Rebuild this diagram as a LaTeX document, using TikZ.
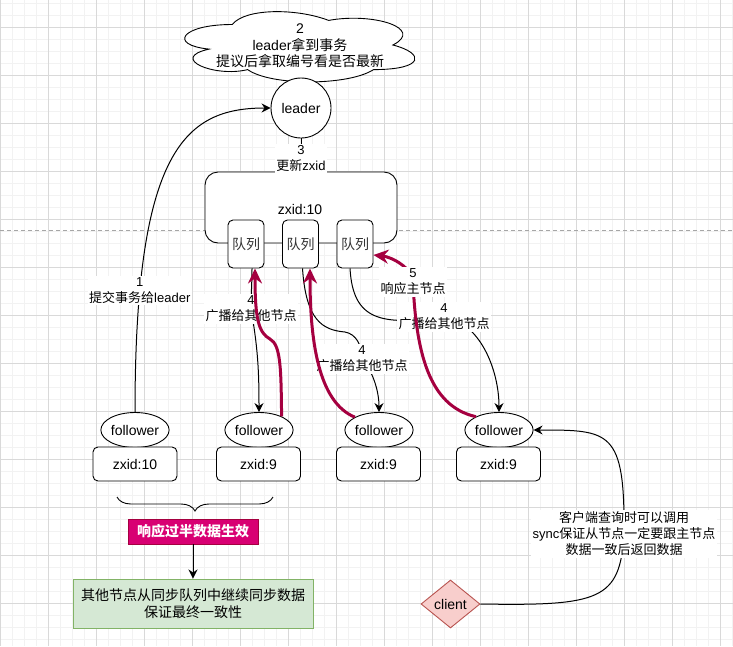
\documentclass[tikz,border=0pt]{standalone}
\usepackage{fontspec}
\setmainfont{Liberation Sans}
\newfontfamily\cjkfont{Noto Sans CJK SC}
\newcommand\zhtext[1]{{\cjkfont #1}}
\usetikzlibrary{shapes.geometric,decorations.pathreplacing,arrows.meta}

\definecolor{redline}{HTML}{A50040}
\definecolor{redfill}{HTML}{D80073}
\definecolor{greenfill}{HTML}{D5E8D4}
\definecolor{greenline}{HTML}{82B366}
\definecolor{pinkfill}{HTML}{F8CECC}
\definecolor{pinkline}{HTML}{B85450}

\tikzset{
  gridminor/.style={draw=black!5, line width=0.6pt},
  gridmajor/.style={draw=black!15, line width=0.8pt},
  nodetext/.style={font=\fontsize{14}{16.5}\selectfont},
  edgetext/.style={font=\fontsize{13}{16}\selectfont, fill=white, align=center, inner sep=1.5pt},
  rbox/.style={draw, fill=white, rounded corners=5pt, line width=0.9pt, nodetext, inner sep=0pt},
  queuebox/.style={rbox, minimum width=36pt, minimum height=48pt, text=black!80},
  zxidbox/.style={rbox, minimum width=84pt, minimum height=34pt},
  followernode/.style={draw, ellipse, fill=white, line width=0.9pt, minimum width=67pt, minimum height=35pt, inner sep=0pt, nodetext},
  blackarrow/.style={line width=1pt, -{Stealth[length=9pt,width=9pt,inset=3pt]}},
  redarrow/.style={line width=3pt, draw=redline, -{Stealth[length=15pt,width=14pt,inset=5pt]}}
}

\begin{document}
\begin{tikzpicture}[x=1pt,y=-1pt]
    \useasboundingbox (0,0) rectangle (733,646);
    \fill[white] (0,0) rectangle (733,646);

    % background grid
    \foreach \gx in {0,12,...,732} \draw[gridminor] (\gx,0) -- (\gx,646);
    \foreach \gy in {3,15,...,645} \draw[gridminor] (0,\gy) -- (733,\gy);
    \foreach \gx in {0,48,...,720} \draw[gridmajor] (\gx,0) -- (\gx,646);
    \foreach \gy in {27,75,...,627} \draw[gridmajor] (0,\gy) -- (733,\gy);
    \draw[black!35, dash pattern=on 4pt off 3pt] (0,230) -- (733,230);

    % leader side
    \draw[shift={(168,4)}, x=257pt, y=-82pt, fill=white, line width=0.9pt]
        (0.25,0.25) .. controls (0.05,0.25) and (0,0.5) .. (0.16,0.55)
        .. controls (0,0.66) and (0.18,0.9) .. (0.31,0.8)
        .. controls (0.4,1) and (0.7,1) .. (0.8,0.8)
        .. controls (1,0.8) and (1,0.6) .. (0.875,0.5)
        .. controls (1,0.3) and (0.8,0.1) .. (0.625,0.2)
        .. controls (0.5,0.05) and (0.3,0.05) .. (0.25,0.25) -- cycle;
    \node[align=center, nodetext] (idea) at (300,46) {2\\leader\zhtext{拿到事务}\\\zhtext{提议后拿取编号看是否最新}};
    \node[draw, circle, fill=white, line width=0.9pt, minimum size=60pt, inner sep=0pt, nodetext]
          (leader) at (301,108) {leader};
    \node[draw, fill=white, rounded corners=13pt, line width=0.9pt, minimum width=192pt, minimum height=71pt]
          (pool) at (301,207.5) {};
    \node[nodetext] (poolzxid) at (300,209) {zxid:10};
    \node[queuebox] (q1) at (246,244) {\zhtext{队列}};
    \node[queuebox] (q2) at (300.5,244) {\zhtext{队列}};
    \node[queuebox] (q3) at (355,244) {\zhtext{队列}};

    % followers
    \node[followernode] (f1) at (135,430) {follower};
    \node[zxidbox] (z1) at (135,464) {zxid:10};
    \node[followernode] (f2) at (259,430) {follower};
    \node[zxidbox] (z2) at (258.5,464) {zxid:9};
    \node[followernode] (f3) at (379,430) {follower};
    \node[zxidbox] (z3) at (378.5,464) {zxid:9};
    \node[followernode] (f4) at (499,430) {follower};
    \node[zxidbox] (z4) at (498.5,464) {zxid:9};

    % bottom part
    \draw[line width=0.9pt, decorate, decoration={brace, mirror, amplitude=14pt}] (117,497) -- (273,497);
    \node[draw=redline, fill=redfill, text=white, line width=0.9pt, minimum width=130pt, minimum height=25pt,
          inner sep=0pt, font=\fontsize{14}{16}\selectfont\bfseries] (half) at (193,531.5) {\zhtext{响应过半数据生效}};
    \node[draw=greenline, fill=greenfill, line width=1pt, minimum width=240pt, minimum height=49pt, align=center, nodetext]
          (final) at (193,603.5) {\zhtext{其他节点从同步队列中继续同步数据}\\\zhtext{保证最终一致性}};
    \node[diamond, draw=pinkline, fill=pinkfill, line width=0.9pt, aspect=1.23, minimum width=59pt, minimum height=48pt,
          inner sep=0pt, nodetext] (client) at (450.5,604) {client};
    \draw[blackarrow] (half) -- (final);

    % black edges
    \draw[blackarrow] (f1.north) .. controls (135,150) and (185,108) .. (leader.west)
        node[edgetext, pos=0.18] (l1) {1\\\zhtext{提交事务给}leader};
    \draw[line width=1pt] (leader.south) -- (pool.north) node[edgetext, pos=0.6] (l3) {3\\\zhtext{更新}zxid};
    \draw[blackarrow] ([xshift=6pt]q1.south) to[out=-90,in=90] (251,309)
        node[edgetext] (l4a) {4\\\zhtext{广播给其他节点}} to[out=-80,in=90] (f2.north);
    \draw[blackarrow] ([xshift=2pt]q2.south) .. controls (306,320) and (322,330) .. (345,332)
        .. controls (356,334) and (362,345) .. (362,359)
        node[edgetext] (l4b) {4\\\zhtext{广播给其他节点}} .. controls (372,370) and (379,390) .. (f3.north);
    \draw[blackarrow] ([xshift=-5pt]q3.south) .. controls (353,320) and (380,326) .. (444,317)
        node[edgetext] (l4c) {4\\\zhtext{广播给其他节点}} .. controls (480,322) and (499,370) .. (f4.north);
    \draw[blackarrow] (client.east) .. controls (600,606) and (620,600) .. (624,534)
        node[edgetext] (lsync) {\zhtext{客户端查询时可以调用}\\sync\zhtext{保证从节点一定要跟主节点}\\\zhtext{数据一致后返回数据}}
        .. controls (625,430) and (610,430) .. (f4.east);

    % red answers
    \draw[redarrow] (f2.31) .. controls (281,370) and (281,345) .. (270,339)
        .. controls (259,333) and (255,320) .. ([xshift=9pt]q1.south);
    \draw[redarrow] (f3.152) .. controls (318,402) and (310,340) .. ([xshift=9.5pt]q2.south);
    \draw[redarrow] (f4.150) .. controls (428,406) and (416,350) .. (413,282)
        node[edgetext] (l5) {5\\\zhtext{响应主节点}}
        .. controls (412.4,268) and (392,257) .. ([yshift=-11pt]q3.east);
\end{tikzpicture}
\end{document}
